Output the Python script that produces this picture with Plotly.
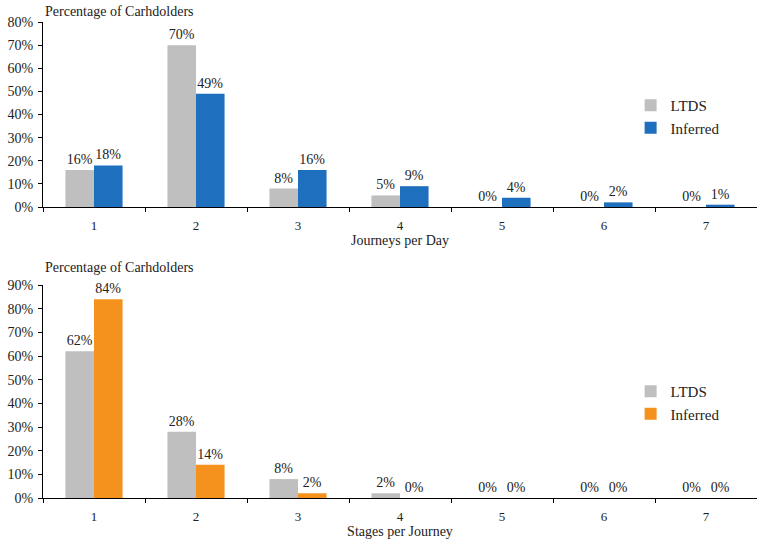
import plotly.graph_objects as go

categories = ["1", "2", "3", "4", "5", "6", "7"]

journeys_ltds = [16, 70, 8, 5, 0, 0, 0]
journeys_inferred = [18, 49, 16, 9, 4, 2, 1]

stages_ltds = [62, 28, 8, 2, 0, 0, 0]
stages_inferred = [84, 14, 2, 0, 0, 0, 0]

GRAY = "#BFBFBF"
BLUE = "#1F6FBF"
ORANGE = "#F5921E"
TEXT = "#222222"
FONT = "Liberation Serif"

fig = go.Figure()


def add_bar(x, y, name, color, xaxis, yaxis, legend):
    fig.add_trace(go.Bar(
        x=x, y=y, name=name, marker=dict(color=color, line=dict(width=0)),
        xaxis=xaxis, yaxis=yaxis, legend=legend,
        text=[f"{v:.0f}%" for v in y], textposition="outside",
        textfont=dict(family=FONT, size=14, color=TEXT),
        cliponaxis=False,
    ))


add_bar(categories, journeys_ltds, "LTDS", GRAY, "x", "y", "legend")
add_bar(categories, journeys_inferred, "Inferred", BLUE, "x", "y", "legend")
add_bar(categories, stages_ltds, "LTDS", GRAY, "x2", "y2", "legend2")
add_bar(categories, stages_inferred, "Inferred", ORANGE, "x2", "y2", "legend2")

H = 541.0


def py(px):
    return 1 - px / H


axis_common = dict(
    showline=True, linecolor="#000000", linewidth=1,
    ticks="outside", ticklen=4, tickcolor="#000000",
    showgrid=False, zeroline=False, automargin=False,
)
xtick_font = dict(family=FONT, size=13, color=TEXT)
ytick_font = dict(family=FONT, size=14, color=TEXT)

fig.update_layout(
    width=757, height=541,
    margin=dict(l=43, r=0, t=0, b=0, autoexpand=False),
    plot_bgcolor="white", paper_bgcolor="white",
    barmode="group", bargap=0.44, bargroupgap=0,
    font=dict(family=FONT, color=TEXT),
    xaxis=dict(domain=[0, 1], anchor="y", tickson="boundaries",
               ticklabelstandoff=6, tickfont=xtick_font,
               title=dict(text="Journeys per Day", standoff=2,
                          font=dict(family=FONT, size=14, color=TEXT)),
               **axis_common),
    yaxis=dict(domain=[py(207), py(22)], anchor="x", range=[0, 80], dtick=10,
               ticksuffix="%", ticklabelstandoff=2, tickfont=ytick_font,
               **axis_common),
    xaxis2=dict(domain=[0, 1], anchor="y2", tickson="boundaries",
                ticklabelstandoff=6, tickfont=xtick_font,
                title=dict(text="Stages per Journey", standoff=2,
                           font=dict(family=FONT, size=14, color=TEXT)),
                **axis_common),
    yaxis2=dict(domain=[py(498), py(285)], anchor="x2", range=[0, 90], dtick=10,
                ticksuffix="%", ticklabelstandoff=2, tickfont=ytick_font,
                **axis_common),
    legend=dict(x=0.823, y=py(89), xanchor="left", yanchor="top",
                bgcolor="rgba(0,0,0,0)", tracegroupgap=2,
                font=dict(family=FONT, size=15, color=TEXT)),
    legend2=dict(x=0.823, y=py(375), xanchor="left", yanchor="top",
                 bgcolor="rgba(0,0,0,0)", tracegroupgap=2,
                 font=dict(family=FONT, size=15, color=TEXT)),
    annotations=[
        dict(text="Percentage of Carhdolders", xref="paper", yref="paper",
             x=0, y=py(2), xanchor="left", yanchor="top", showarrow=False,
             font=dict(family=FONT, size=14, color=TEXT)),
        dict(text="Percentage of Carhdolders", xref="paper", yref="paper",
             x=0, y=py(258), xanchor="left", yanchor="top", showarrow=False,
             font=dict(family=FONT, size=14, color=TEXT)),
    ],
)

fig.write_html("out.html")
